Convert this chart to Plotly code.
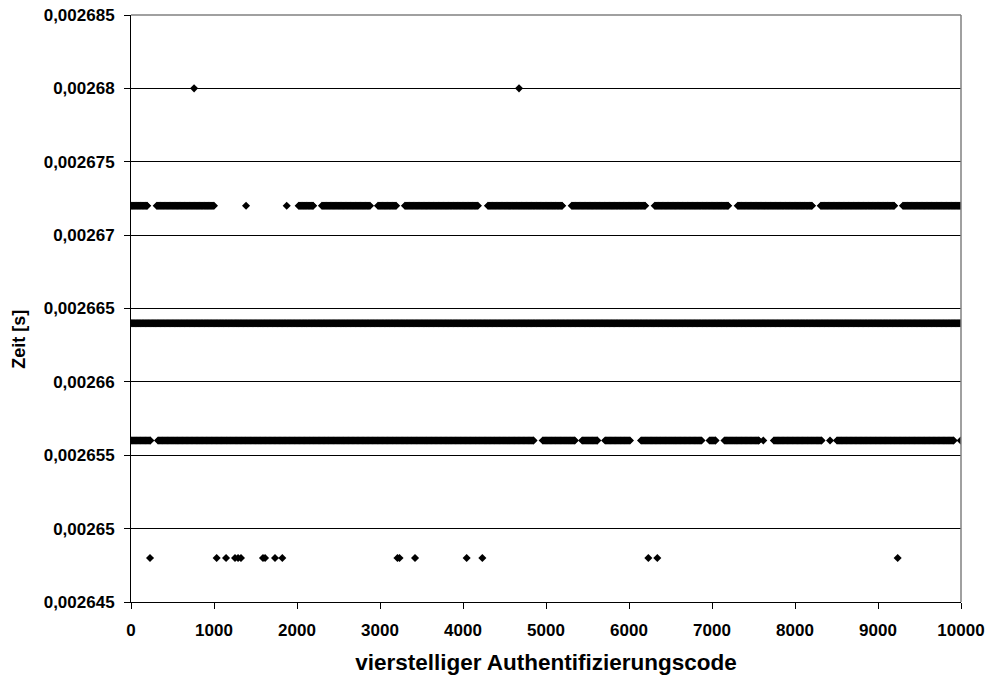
import plotly.graph_objects as go

# ---- data (run-length encoded rows of codes) ----
# level 0.00268 s : isolated codes
x_0_00268 = [760, 4675]

# level 0.002672 s : runs of codes [start, end] plus isolated codes
runs_0_002672_start = [0, 310, 2020, 2300, 2975, 3300, 4300, 5310, 6310, 7310, 8310, 9300]
runs_0_002672_end = [195, 1000, 2195, 2880, 3195, 4180, 5195, 6195, 7195, 8205, 9195, 10000]
x_0_002672_single = [1386, 1876]

# level 0.002664 s : practically all codes
runs_0_002664_start = [0]
runs_0_002664_end = [10000]

# level 0.002656 s : runs of codes plus isolated codes
runs_0_002656_start = [0, 325, 4960, 5435, 5712, 6145, 6970, 7150, 7745, 8505]
runs_0_002656_end = [232, 4850, 5348, 5618, 6012, 6874, 7042, 7565, 8320, 9912]
x_0_002656_single = [7618, 8422, 9995]

# level 0.002648 s : isolated codes
x_0_002648 = [229, 1032, 1145, 1253, 1290, 1325, 1590, 1615, 1735, 1823,
              3210, 3235, 3422, 4044, 4233, 6233, 6341, 9237]

levels = [0.00268, 0.002672, 0.002664, 0.002656, 0.002648]

y_tickvals = [0.002645, 0.00265, 0.002655, 0.00266, 0.002665, 0.00267,
              0.002675, 0.00268, 0.002685]
y_ticktext = ["0,002645", "0,00265", "0,002655", "0,00266", "0,002665", "0,00267",
              "0,002675", "0,00268", "0,002685"]
x_tickvals = [0, 1000, 2000, 3000, 4000, 5000, 6000, 7000, 8000, 9000, 10000]
x_ticktext = ["0", "1000", "2000", "3000", "4000", "5000", "6000", "7000",
              "8000", "9000", "10000"]

STEP = 10  # codes per drawn sample inside a run


def expand(starts, ends, singles=()):
    xs = []
    for s, e in zip(starts, ends):
        xs.extend(range(s, e + 1, STEP))
        if (e - s) % STEP:
            xs.append(e)
    xs.extend(singles)
    return xs


rows = [
    (x_0_00268, levels[0]),
    (expand(runs_0_002672_start, runs_0_002672_end, x_0_002672_single), levels[1]),
    (expand(runs_0_002664_start, runs_0_002664_end), levels[2]),
    (expand(runs_0_002656_start, runs_0_002656_end, x_0_002656_single), levels[3]),
    (x_0_002648, levels[4]),
]

all_x, all_y = [], []
for xs, lvl in rows:
    all_x.extend(xs)
    all_y.extend([lvl] * len(xs))

fig = go.Figure()
fig.add_trace(go.Scatter(
    x=all_x, y=all_y, mode="markers",
    marker=dict(symbol="diamond", size=6.2, color="#000000", line=dict(width=0)),
    showlegend=False, hoverinfo="x+y",
))

font_family = "Liberation Sans, Arial, sans-serif"


def bold(lst):
    return ["<b>%s</b>" % t for t in lst]


fig.update_layout(
    width=989, height=678,
    margin=dict(l=131, r=28, t=15, b=76),
    paper_bgcolor="white", plot_bgcolor="white",
    font=dict(family=font_family, color="#000000"),
    xaxis=dict(
        range=[0, 10000], tickvals=x_tickvals, ticktext=bold(x_ticktext),
        ticks="outside", ticklen=6, ticklabelstandoff=7, automargin=False,
        tickcolor="#000000", showline=True, linecolor="#000000", linewidth=1,
        showgrid=False, zeroline=False, mirror=False,
        tickfont=dict(family=font_family, size=17, color="#000000"),
        title=dict(text="<b>vierstelliger Authentifizierungscode</b>",
                   font=dict(family=font_family, size=22.5, color="#000000"),
                   standoff=14),
    ),
    yaxis=dict(
        range=[0.002645, 0.002685], tickvals=y_tickvals, ticktext=bold(y_ticktext),
        ticks="outside", ticklen=6, ticklabelstandoff=6, automargin=False,
        tickcolor="#000000",
        showline=True, linecolor="#000000", linewidth=1,
        showgrid=True, gridcolor="#000000", gridwidth=1, zeroline=False,
        tickfont=dict(family=font_family, size=17, color="#000000"),
    ),
    annotations=[
        dict(text="<b>Zeit [s]</b>", xref="paper", yref="paper",
             x=-0.136, y=0.447, xanchor="center", yanchor="middle",
             textangle=-90, showarrow=False,
             font=dict(family=font_family, size=18, color="#000000")),
    ],
    shapes=[
        dict(type="line", xref="paper", yref="paper", x0=0, x1=1, y0=1, y1=1,
             line=dict(color="#808080", width=1.5), layer="above"),
        dict(type="line", xref="paper", yref="paper", x0=1, x1=1, y0=0, y1=1,
             line=dict(color="#808080", width=1.5), layer="above"),
    ],
)

fig.write_html("out.html")
